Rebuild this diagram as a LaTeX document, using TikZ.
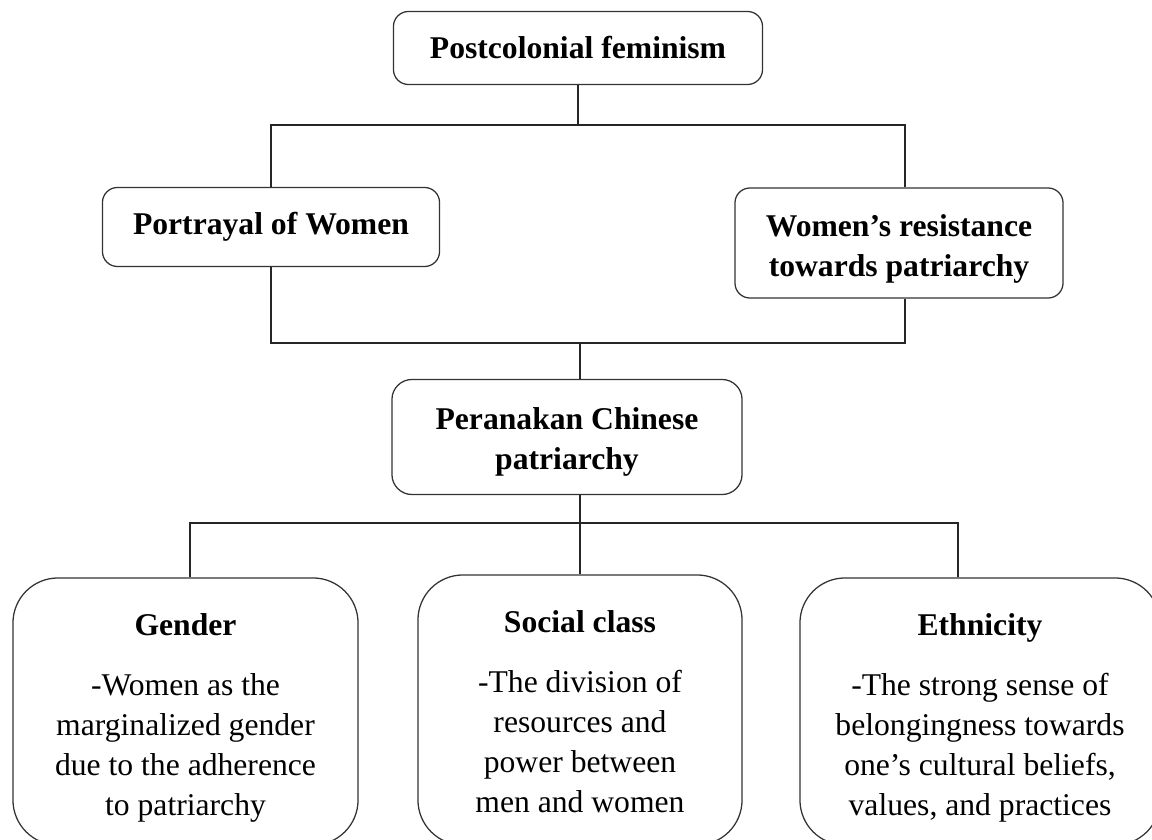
\documentclass[tikz,border=0pt]{standalone}
\usepackage{fontspec}
\setmainfont{Liberation Serif}
\newcommand{\boxgap}[1]{\rule{0pt}{#1}}
\begin{document}
\begin{tikzpicture}[x=0.025cm,y=-0.025cm,
    font=\fontsize{22.5}{28.5}\selectfont,
    headbox/.style={draw=black!80,line width=0.9pt,rounded corners=0.375cm,align=center,inner sep=0pt},
    bigbox/.style={draw=black!80,line width=0.9pt,rounded corners=1.125cm,align=center,inner sep=0pt},
    link/.style={draw=black!85,line width=0.9pt}]
    \useasboundingbox (0,0) rectangle (1152,840);
    \clip (0,0) rectangle (1152,840);
    \node[headbox,minimum width=9.225cm,minimum height=1.825cm] (post) at (578,48) {\textbf{Postcolonial feminism}};
    \node[headbox,minimum width=8.425cm,minimum height=1.975cm] (portray) at (271,227) {\textbf{Portrayal of Women}};
    \node[headbox,minimum width=8.2cm,minimum height=2.75cm] (resist) at (899,243) {\boxgap{24pt}\textbf{Women’s resistance}\\\textbf{towards patriarchy}};
    \node[headbox,rounded corners=0.5cm,minimum width=8.75cm,minimum height=2.875cm] (peran) at (567,437) {\boxgap{22.5pt}\textbf{Peranakan Chinese}\\\textbf{patriarchy}};
    \node[bigbox,minimum width=8.625cm,minimum height=6.675cm] (gender) at (185.5,711.5) {\boxgap{25.3pt}\textbf{Gender}\\[14pt]-Women as the\\marginalized gender\\due to the adherence\\to patriarchy};
    \node[bigbox,minimum width=8.1cm,minimum height=6.75cm] (social) at (580,710) {\boxgap{18.5pt}\textbf{Social class}\\[14pt]-The division of\\resources and\\power between\\men and women};
    \node[bigbox,minimum width=9cm,minimum height=6.675cm] (ethnic) at (980,711.5) {\boxgap{25.3pt}\textbf{Ethnicity}\\[14pt]-The strong sense of\\belongingness towards\\one’s cultural beliefs,\\values, and practices};
    \coordinate (topbar) at (578,125);
    \coordinate (midbar) at (580,343);
    \coordinate (lowbar) at (580,523);
    \draw[link] (post) -- (topbar);
    \draw[link] (portray.north) |- (topbar) -| ([xshift=0.15cm]resist.north);
    \draw[link] (portray.south) |- (midbar) -| ([xshift=0.15cm]resist.south);
    \draw[link] (midbar) -- (midbar |- peran.north);
    \draw[link] (lowbar |- peran.south) -- (lowbar);
    \draw[link] ([xshift=0.1125cm]gender.north) |- (lowbar) -| ([xshift=-0.55cm]ethnic.north);
    \draw[link] (lowbar) -- (social.north);
\end{tikzpicture}
\end{document}
